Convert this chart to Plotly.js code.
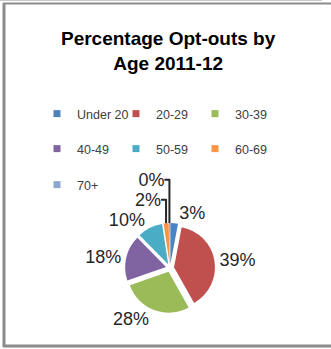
<!DOCTYPE html>
<html>
<head>
<meta charset="utf-8">
<script src="https://cdn.plot.ly/plotly-3.0.1.min.js"></script>
<style>
  html, body { margin: 0; padding: 0; background: #ffffff; }
  #chart { width: 331px; height: 349px; }
</style>
</head>
<body>
<div id="chart"></div>
<script>
// ---- data ----
var categories = ['Under 20', '20-29', '30-39', '40-49', '50-59', '60-69', '70+'];
var percentValues = [3, 39, 28, 18, 10, 2, 0.4];
var sliceColors = ['#4F81BD', '#C0504D', '#9BBB59', '#8064A2', '#4BACC6', '#F79646', '#8FA6CF'];
var legendRows = ['legend', 'legend', 'legend', 'legend2', 'legend2', 'legend2', 'legend3'];
var chartTitle = 'Percentage Opt-outs by<br>Age 2011-12';

var W = 331, H = 349;
function px(x) { return x / W; }
function py(y) { return 1 - y / H; }

var traces = [];
traces.push({
  type: 'pie',
  labels: categories,
  values: percentValues,
  sort: false,
  direction: 'clockwise',
  rotation: 0,
  marker: { colors: sliceColors, line: { color: '#ffffff', width: 0 } },
  pull: 0.1,
  textposition: 'outside',
  texttemplate: '%{percent:.0%}',
  textfont: { family: 'Liberation Sans, Arial, sans-serif', size: 18, color: '#262626' },
  showlegend: false,
  hoverinfo: 'label+percent',
  domain: { x: [px(125), px(215)], y: [py(313), py(223)] }
});

for (var i = 0; i < categories.length; i++) {
  traces.push({
    type: 'scatter',
    mode: 'markers',
    x: [null], y: [null],
    name: categories[i],
    legend: legendRows[i],
    marker: { symbol: 'square', size: 7, color: sliceColors[i] },
    hoverinfo: 'skip',
    showlegend: true
  });
}

function legendCfg(yc) {
  return {
    orientation: 'h',
    x: px(37), xanchor: 'left',
    y: py(yc), yanchor: 'middle',
    entrywidth: 34, entrywidthmode: 'pixels',
    font: { family: 'Liberation Sans, Arial, sans-serif', size: 12.5, color: '#404040' },
    bgcolor: 'rgba(0,0,0,0)',
    borderwidth: 0,
    itemclick: false, itemdoubleclick: false
  };
}

var layout = {
  width: W, height: H,
  margin: { l: 0, r: 0, t: 0, b: 0 },
  paper_bgcolor: '#ffffff',
  plot_bgcolor: 'rgba(0,0,0,0)',
  xaxis: { visible: false, range: [0, 1] },
  yaxis: { visible: false, range: [0, 1] },
  title: {
    text: '<b>' + chartTitle + '</b>',
    x: 0.508, xanchor: 'center', xref: 'container',
    y: py(45), yanchor: 'top', yref: 'container',
    font: { family: 'Liberation Sans, Arial, sans-serif', size: 19, color: '#000000' }
  },
  legend: legendCfg(114),
  legend2: legendCfg(149),
  legend3: legendCfg(185),
  shapes: [
    { type: 'line', xref: 'paper', yref: 'paper', x0: 0, x1: px(322), y0: py(0.5), y1: py(0.5), line: { color: '#c8c8c8', width: 1 } },
    { type: 'line', xref: 'paper', yref: 'paper', x0: px(3), x1: 1, y0: py(3.5), y1: py(3.5), line: { color: '#8c8c8c', width: 2 } },
    { type: 'line', xref: 'paper', yref: 'paper', x0: px(4), x1: px(4), y0: py(3), y1: py(347), line: { color: '#8c8c8c', width: 3 } },
    { type: 'line', xref: 'paper', yref: 'paper', x0: px(3), x1: 1, y0: py(346), y1: py(346), line: { color: '#8c8c8c', width: 3 } }
  ],
  showlegend: true
};

Plotly.newPlot('chart', traces, layout, { displayModeBar: false, staticPlot: true });
</script>
</body>
</html>
